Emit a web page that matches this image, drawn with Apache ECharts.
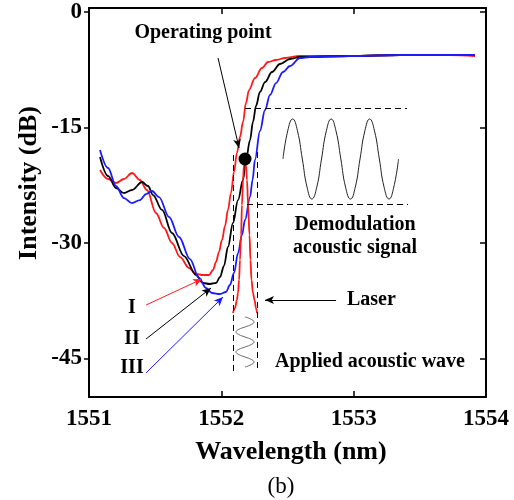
<!DOCTYPE html>
<html>
<head>
<meta charset="utf-8" />
<script src="https://cdn.jsdelivr.net/npm/echarts@6/dist/echarts.min.js"></script>
<style>
  html, body { margin: 0; padding: 0; background: #fff; }
  #main { width: 514px; height: 500px; }
</style>
</head>
<body>
<div id="main"></div>
<script type="text/javascript">
    // spectra: [wavelength nm, intensity dB]
    var curveI = [[1551.083,-20.53],[1551.144,-21.70],[1551.204,-22.22],[1551.264,-21.70],[1551.325,-20.92],[1551.385,-21.83],[1551.438,-23.13],[1551.506,-26.11],[1551.567,-28.06],[1551.627,-30.01],[1551.688,-31.83],[1551.756,-33.25],[1551.809,-34.03],[1551.854,-34.16],[1551.907,-34.16],[1551.937,-33.51],[1551.960,-32.47],[1551.982,-31.18],[1552.005,-29.62],[1552.028,-27.80],[1552.050,-25.72],[1552.073,-23.52],[1552.096,-20.79],[1552.118,-18.32],[1552.141,-16.25],[1552.164,-14.30],[1552.186,-11.83],[1552.209,-10.15],[1552.254,-8.59],[1552.307,-7.29],[1552.353,-6.51],[1552.413,-6.25],[1552.481,-5.99],[1552.594,-5.73],[1552.972,-5.73],[1553.350,-5.60],[1553.728,-5.60],[1553.917,-5.73]];
    var curveII = [[1551.083,-18.84],[1551.144,-21.31],[1551.204,-22.87],[1551.264,-23.52],[1551.325,-23.13],[1551.401,-22.09],[1551.446,-22.61],[1551.484,-23.78],[1551.552,-25.72],[1551.627,-28.71],[1551.718,-31.70],[1551.809,-34.16],[1551.861,-35.20],[1551.914,-35.33],[1551.960,-35.20],[1551.990,-34.42],[1552.020,-32.99],[1552.050,-30.53],[1552.088,-27.41],[1552.126,-24.43],[1552.164,-21.83],[1552.186,-19.23],[1552.217,-16.64],[1552.239,-14.30],[1552.262,-12.22],[1552.292,-10.40],[1552.330,-9.11],[1552.383,-7.81],[1552.443,-6.77],[1552.519,-6.12],[1552.594,-5.86],[1552.972,-5.73],[1553.350,-5.60],[1553.917,-5.60]];
    var curveIII = [[1551.083,-17.93],[1551.144,-20.27],[1551.204,-22.61],[1551.264,-24.17],[1551.325,-24.82],[1551.385,-24.43],[1551.431,-23.65],[1551.476,-23.26],[1551.529,-24.04],[1551.605,-26.63],[1551.680,-29.23],[1551.763,-32.09],[1551.831,-34.55],[1551.884,-35.85],[1551.929,-36.50],[1551.990,-36.63],[1552.035,-36.37],[1552.065,-35.46],[1552.096,-33.90],[1552.126,-31.31],[1552.156,-28.97],[1552.179,-27.02],[1552.217,-24.04],[1552.236,-21.83],[1552.254,-19.23],[1552.292,-15.47],[1552.330,-12.74],[1552.368,-10.79],[1552.413,-9.24],[1552.466,-7.81],[1552.519,-7.03],[1552.594,-5.99],[1552.670,-5.86],[1552.972,-5.73],[1553.350,-5.60],[1553.917,-5.60]];
    var laserLine = [[1552.088,-39.10],[1552.103,-38.45],[1552.118,-37.41],[1552.126,-36.50],[1552.134,-34.81],[1552.141,-32.21],[1552.149,-28.97],[1552.156,-25.07],[1552.164,-21.83],[1552.171,-19.88],[1552.179,-19.10],[1552.186,-19.88],[1552.194,-21.83],[1552.202,-25.07],[1552.213,-28.97],[1552.220,-32.21],[1552.228,-34.81],[1552.239,-36.50],[1552.251,-37.41],[1552.262,-38.45],[1552.270,-39.10]];
    // sketch of the detected signal and of the applied wave
    var demodWave = [[1552.466,-19.10],[1552.502,-15.43],[1552.539,-13.91],[1552.575,-15.43],[1552.612,-19.10],[1552.648,-22.77],[1552.684,-24.30],[1552.721,-22.77],[1552.757,-19.10],[1552.794,-15.43],[1552.830,-13.91],[1552.866,-15.43],[1552.903,-19.10],[1552.939,-22.77],[1552.976,-24.30],[1553.012,-22.77],[1553.048,-19.10],[1553.085,-15.43],[1553.121,-13.91],[1553.157,-15.43],[1553.194,-19.10],[1553.230,-22.77],[1553.267,-24.30],[1553.303,-22.77],[1553.339,-19.10]];
    var appliedWave = [[1552.179,-39.61],[1552.227,-39.93],[1552.247,-40.26],[1552.227,-40.58],[1552.179,-40.91],[1552.131,-41.23],[1552.111,-41.56],[1552.131,-41.88],[1552.179,-42.21],[1552.227,-42.53],[1552.247,-42.86],[1552.227,-43.18],[1552.179,-43.51],[1552.131,-43.83],[1552.111,-44.16],[1552.131,-44.48],[1552.179,-44.81],[1552.227,-45.13],[1552.247,-45.46],[1552.227,-45.78],[1552.179,-46.11]];
    var operatingPoint = [[1552.179, -19.10]];
    // dashed guides: [x1, y1, x2, y2]
    var guides = [[1552.088,-18.58,1552.088,-46.75],[1552.270,-18.19,1552.270,-46.75],[1552.179,-12.48,1553.403,-12.48],[1552.194,-24.95,1553.411,-24.95]];
    // arrows: [x1, y1, x2, y2, colour]
    var arrows = [[1551.975,-5.99,1552.134,-17.67,'#000'],[1552.867,-37.41,1552.330,-37.41,'#000'],[1551.431,-38.06,1551.854,-34.68,'#ff2020'],[1551.431,-42.47,1551.922,-35.85,'#000'],[1551.431,-46.88,1552.013,-37.02,'#1a1aff']];
    var yTicks = [0, -15, -30, -45];

    var serif = '"Liberation Serif", "Times New Roman", serif';
    var chart = echarts.init(document.getElementById('main'));

    function txt(text, x, y, size, align, weight) {
        return {
            type: 'text', x: x, y: y, silent: true,
            style: {
                text: text, fill: '#000', textAlign: align || 'center', textVerticalAlign: 'middle',
                font: (weight || 'bold') + ' ' + size + 'px ' + serif
            }
        };
    }

    var guideLines = guides.map(function (g) {
        return [{ coord: [g[0], g[1]] }, { coord: [g[2], g[3]] }];
    });
    var arrowLines = arrows.map(function (a) {
        return [{ coord: [a[0], a[1]], lineStyle: { color: a[4] } }, { coord: [a[2], a[3]] }];
    });

    var axisCommon = {
        type: 'value', min: 1551, max: 1554, interval: 1,
        axisLine: { onZero: false, lineStyle: { color: '#000', width: 2 } },
        splitLine: { show: false }
    };

    var option = {
        animation: false,
        backgroundColor: '#fff',
        grid: { left: 89, right: 28, top: 8, bottom: 103 },
        xAxis: [
            Object.assign({}, axisCommon, {
                position: 'bottom',
                axisTick: { inside: true, length: 6, lineStyle: { color: '#000', width: 1.5 } },
                axisLabel: {
                    margin: 11, color: '#000', fontFamily: serif, fontWeight: 'bold', fontSize: 23,
                    formatter: function (v) { return String(v); }
                }
            }),
            Object.assign({}, axisCommon, {
                position: 'top',
                axisTick: { inside: true, length: 6, lineStyle: { color: '#000', width: 1.5 } },
                axisLabel: { show: false }
            })
        ],
        yAxis: [
            {
                type: 'value', min: -50, max: 0.5, position: 'left',
                axisLine: { onZero: false, lineStyle: { color: '#000', width: 2 } },
                axisTick: { inside: false, length: 5, customValues: yTicks, lineStyle: { color: '#000', width: 1.5 } },
                axisLabel: { margin: 7, customValues: yTicks, color: '#000', fontFamily: serif, fontWeight: 'bold', fontSize: 23 },
                splitLine: { show: false }
            },
            {
                type: 'value', min: -50, max: 0.5, position: 'right',
                axisLine: { onZero: false, lineStyle: { color: '#000', width: 2 } },
                axisTick: { inside: true, length: 6, customValues: yTicks, lineStyle: { color: '#000', width: 1.5 } },
                axisLabel: { show: false },
                splitLine: { show: false }
            }
        ],
        series: [
            { name: 'I', type: 'line', data: curveI, showSymbol: false, smooth: 0.35, smoothMonotone: 'x', lineStyle: { color: '#ff1a1a', width: 1.8 }, z: 3 },
            { name: 'II', type: 'line', data: curveII, showSymbol: false, smooth: 0.35, smoothMonotone: 'x', lineStyle: { color: '#000', width: 1.8 }, z: 3 },
            { name: 'III', type: 'line', data: curveIII, showSymbol: false, smooth: 0.35, smoothMonotone: 'x', lineStyle: { color: '#1a1aff', width: 1.8 }, z: 3 },
            { name: 'Laser', type: 'line', data: laserLine, showSymbol: false, smooth: 0.35, smoothMonotone: 'x', lineStyle: { color: '#ff1a1a', width: 1.8 }, z: 4 },
            { name: 'demod', type: 'line', data: demodWave, showSymbol: false, smooth: 0.5, lineStyle: { color: '#222', width: 1 }, z: 2 },
            { name: 'applied', type: 'line', data: appliedWave, showSymbol: false, smooth: 0.5, lineStyle: { color: '#444', width: 0.8 }, z: 2 },
            {
                name: 'point', type: 'scatter', data: operatingPoint, symbolSize: 13,
                itemStyle: { color: '#000', opacity: 1 }, z: 6
            },
            {
                name: 'guides', type: 'line', data: [], silent: true,
                markLine: {
                    silent: true, symbol: ['none', 'none'], label: { show: false },
                    lineStyle: { color: '#000', type: [6, 4], width: 1 },
                    data: guideLines
                }
            },
            {
                name: 'arrows', type: 'line', data: [], silent: true,
                markLine: {
                    silent: true, symbol: ['none', 'arrow'], symbolSize: [6, 9], label: { show: false },
                    lineStyle: { type: 'solid', width: 1 },
                    data: arrowLines
                }
            }
        ],
        graphic: [
            txt('Operating point', 203, 33, 20),
            txt('Demodulation', 355, 225, 20),
            txt('acoustic signal', 355, 248, 20),
            txt('Laser', 347, 300, 20, 'left'),
            txt('Applied acoustic wave', 370, 362, 20),
            txt('I', 132, 308, 20),
            txt('II', 132, 339, 20),
            txt('III', 132, 368, 20),
            txt('Wavelength (nm)', 291, 452, 26),
            Object.assign(txt('Intensity (dB)', 0, 0, 26), { x: 29, y: 183, rotation: Math.PI / 2 }),
            txt('(b)', 281, 487, 23, 'center', 'normal')
        ]
    };
    chart.setOption(option);
</script>
</body>
</html>
